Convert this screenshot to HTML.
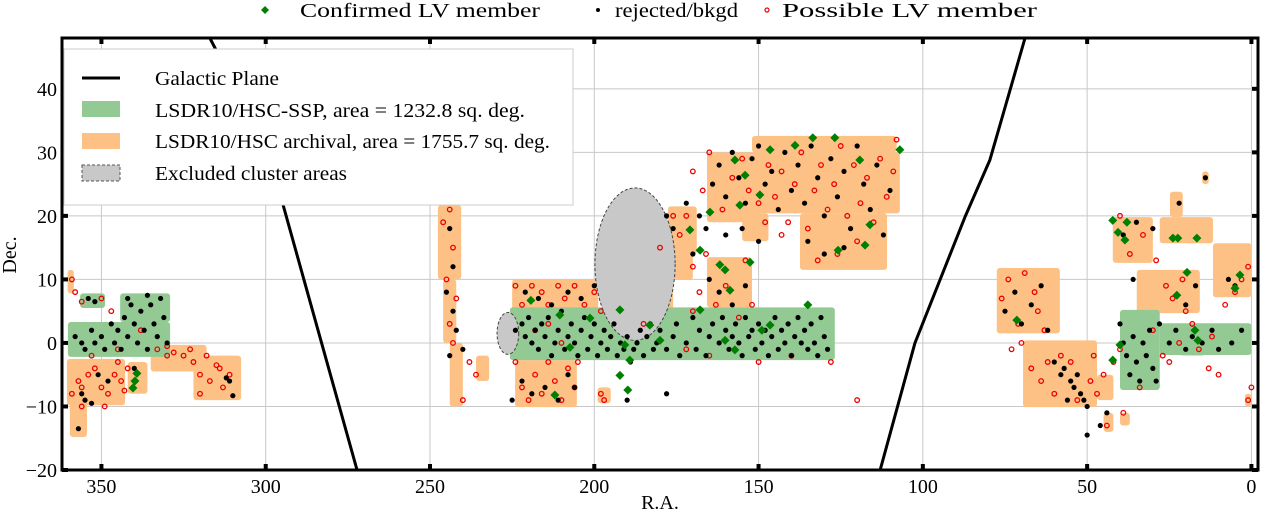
<!DOCTYPE html>
<html><head><meta charset="utf-8"><style>
html,body{margin:0;padding:0;background:#fff;}
svg{display:block;font-family:"Liberation Serif",serif;}
</style></head><body>
<svg id="chart" width="1262" height="515" viewBox="0 0 1262 515" xmlns="http://www.w3.org/2000/svg">
<defs><clipPath id="clip"><rect x="62" y="38" width="1196" height="432"/></clipPath></defs>
<g id="grid"></g>
<g id="areas" clip-path="url(#clip)"></g>
<g id="pts" clip-path="url(#clip)"></g>
<g id="gal" clip-path="url(#clip)"></g>
<g id="axes"></g>
<g>
<rect x="64" y="49" width="509" height="156" fill="#fff" stroke="#cccccc" stroke-width="1"/>
<line x1="82" y1="78" x2="120" y2="78" stroke="#000" stroke-width="3"/>
<text x="155" y="85" font-size="20" textLength="124" lengthAdjust="spacingAndGlyphs">Galactic Plane</text>
<rect x="82" y="101" width="38" height="16" fill="#93c993"/>
<text x="155" y="117" font-size="20" textLength="370" lengthAdjust="spacingAndGlyphs">LSDR10/HSC-SSP, area = 1232.8 sq. deg.</text>
<rect x="82" y="133" width="38" height="16" fill="#fdc185"/>
<text x="155" y="148" font-size="20" textLength="395" lengthAdjust="spacingAndGlyphs">LSDR10/HSC archival, area = 1755.7 sq. deg.</text>
<rect x="82" y="165" width="38" height="16" fill="#c8c8c8" stroke="#555" stroke-dasharray="3,2"/>
<text x="155" y="180" font-size="20" textLength="192" lengthAdjust="spacingAndGlyphs">Excluded cluster areas</text>
</g>
<g>
<path d="M265,6 L269,10 L265,14 L261,10 Z" fill="#008000"/>
<text x="300" y="17" font-size="20" textLength="240" lengthAdjust="spacingAndGlyphs">Confirmed LV member</text>
<circle cx="598" cy="10" r="2" fill="#000"/>
<text x="615" y="17" font-size="20" textLength="123" lengthAdjust="spacingAndGlyphs">rejected/bkgd</text>
<circle cx="767" cy="10" r="2" fill="none" stroke="#e00" stroke-width="1.2"/>
<text x="782" y="17" font-size="20" textLength="255" lengthAdjust="spacingAndGlyphs">Possible LV member</text>
</g>
<text x="660" y="509" font-size="20" text-anchor="middle">R.A.</text>
<text x="16" y="255" font-size="20" text-anchor="middle" transform="rotate(-90 16 255)">Dec.</text>
</svg>
<script>
const xTicks=[350,300,250,200,150,100,50,0];
const yTicks=[-20,-10,0,10,20,30,40];
const sspRects=[[360.2,329.1,-2.2,3.3],[344.3,329.1,3.3,7.8],[356.5,348.9,5.5,7.8],[225.7,126.8,-2.7,5.6],[40,27.9,-7.4,5.2],[27.9,0,-1.9,3.1]];
const archRects=[[360.5,342.8,-9.8,-2.5],[359.6,354.4,-14.8,-9.5],[360.3,358.4,7.8,11.5],[335,318,-4.5,-0.3],[322,307.5,-9,-2],[342,336,-8,-3],
[247.6,240.5,10,21.7],[246,242,0,10],[244,240,-10,0],[236,232,-6,-2],
[225,198.8,5,10],[224.1,205.3,-10.1,-2.7],[199,195,-9.5,-7],
[165.7,107,20.4,30],[152,108,30,32.6],[165.7,150,19,23],[137.4,110.9,11.5,20.4],[155,147,16,20.4],
[165.7,152,5.6,13.5],[177.6,168.8,14,21.5],[178,170,9.9,14],[180,176,4,9],
[77.5,58.3,1.5,11.8],[69.5,47,-10.1,0.4],[47,42,-9,-5],[45,42,-14,-11],[40,37,-13,-11],
[34.9,15.7,4.7,11.5],[42.2,30,12.6,19.8],[27.9,11.7,15.7,19.8],[24.8,20.9,19.8,23.8],[11.7,0,7.2,15.7],[15,13,25,27],[22,14,-2,3],[2,0,-10,-8]];
const exclRA=[187.6,226.3];
const exclDec=[12.4,1.5];
const exclRadRA=[12.2,3.3];
const exclRadDec=[12,3.3];
const galLeftRA=[317,305,294.7,283,272.2];
const galLeftDec=[48,36,21.7,0,-20];
const galRightRA=[113,102.4,87.2,79.6,68.9];
const galRightDec=[-20,0,19.8,28.8,48];
const confirmed=[[157.2,28.8],[154.1,26.4],[146.5,30.4],[138.9,31.1],[133.5,32.3],[126.8,32.3],[149.6,23.3],[119.2,28.8],[155.7,21.7],[164.8,20.6],[170.9,17.8],[167.8,14.6],[161.8,12.3],[160.2,11.5],[158.7,8.3],[183.1,2.8],[190.7,-0.3],[189.2,-2.7],[192.2,-5.1],[189.8,-7.4],[219.3,6.7],[210.5,4.4],[201.3,3.9],[207.4,-0.7],[180,0.4],[160.2,0.4],[157.2,-1.1],[146.5,2.8],[135,6],[152.6,12.7],[116.1,18.6],[117.6,15.4],[125.8,14.6],[107,30.4],[192.2,5.2],[167.8,5.2],[212,-8.2],[149,2],
[339.2,-4.8],[340.4,-7.1],[339.8,-6],
[42.2,19.3],[37.9,19],[40.6,17.4],[38.5,16.2],[23.9,16.5],[22.4,16.5],[16.6,16.5],[19.6,11.1],[22.7,7.5],[3.5,10.7],[5,8.6],[17.2,2],[16.3,0.4],[40,-0.3],[42.2,-2.7],[71.4,3.6]];
const rejected=[[358,1],[356,0],[355,-1],[353,2],[352,0],[350,1],[349,-1],[347,3],[346,0],[345,2],[344,-1],[343,4],[342,1],[341,6],[340,3],[339,0],[338,5],[337,2],[336,-1],[335,6],[334,3],[333,1],[332,7],[331,4],[330,0],[342,7],[336,7.5],[354,7],[352,6.5],[348,-6],[351,-5],[356,-8],[355,-9],[353,-9.5],[357,-13.5],[340,-4],[310,-8.3],[311,-6],[312,-5.5],
[244,18],[243,12],[245,8],[243,5],[242,2],[244,-2],[240,-1],
[224,2],[222,3],[221,1],[220,4],[219,0],[218,2],[217,-1],[216,3],[215,1],[214,4],[213,-2],[212,0],[211,2],[210,5],[209,-1],[208,1],[207,3],[206,0],[205,-2],[204,2],[203,4],[202,-1],[201,1],[200,3],[199,-2],[198,0],[197,2],[196,-1],[195,1],[194,3],[193,-2],[192,0],[191,-1],[190,1],[189,-3],[188,-1],[187,0],[186,2],[185,-2],[184,1],[183,3],[182,-1],[181,0],[180,2],[178,-1],[176,1],[175,3],[174,-2],[172,0],[170,4],[169,-1],[168,2],[166,-2],[165,1],[164,3],[162,0],[161,4],[160,2],[159,-1],[158,1],[157,3],[156,0],[155,-2],[154,4],[153,1],[152,2],[151,-1],[150,3],[149,0],[148,2],[147,-2],[146,1],[145,4],[144,-1],[143,2],[142,0],[141,3],[140,-2],[139,1],[138,4],[137,0],[136,2],[135,-1],[134,3],[133,0],[132,-2],[131,4],[130,1],[129,-1],
[221,8],[217,7],[213,6],[208,8],[204,7],[200,9],[222,-6],[219,-8],[215,-7],[211,-9],[208,-5],[206,-7],[225,-9],
[172,22],[168,20],[166,18],[164,25],[162,28],[160,23],[158,30],[156,26],[154,22],[152,29],[150,31],[148,25],[146,27],[144,21],[142,30],[140,24],[138,28],[136,22],[134,31],[132,26],[130,20],[128,29],[126,23],[124,27],[122,18],[120,31],[118,25],[116,21],[114,28],[112,17],[110,24],[135,16],[130,14],[124,15],[155,18],[150,16],[160,17],[165,10],[162,8],[158,6],[154,9],[170,14],[176,18],[178,20],[178,-8],[190,-9],
[75,5],[72,8],[70,3],[67,6],[64,9],[62,2],[60,-3],[58,-5],[57,-4],[55,-6],[54,-7],[53,-5],[52,-8],[51,-9],[50,-10],[56,-9],[50,-14.5],[46,-13],[44,-11],[40,3],[39,0],[38,-2],[37,-5],[36,1],[35,-3],[34,-6],[33,0],[32,-2],[31,2],[30,-4],[29,-6],[28,3],[25,0],[23,2],[20,-1],[18,1],[15,0],[12,2],[10,-1],[6,0],[3,2],[39,17],[35,19],[30,18],[14,26],[22,22],[7,10],[5,9],[20,6],[17,9],[36,10]];
const possible=[[359,10],[358,8],[357,-6],[356,-7],[359,-8],[354,-5],[352,-4],[350,-7],[348,-8],[346,-5],[344,-6],[342,-4],[345,-3],[343,-7.5],[349,-10],[356,-10],[353,-2],[350,7],[356,6.5],[347,5],[345,-1],[338,2],[333,-1],[330,-0.5],[328,-1.5],[325,-2],[322,-3],[320,-5],[318,-2],[315,-3.5],[313,-7],[314,-4],[311,-5],[317,-6],[320,-8],[323,-1],[330,-2],
[246,19],[244,21],[243,15],[245,10],[242,7],[244,3],[243,0],[238,-3],[236,-5],[240,-9],
[224,9],[222,6],[219,9],[216,8],[214,6],[211,9],[209,7],[206,9],[203,6],[200,8],[198,5],[224,-3],[222,-7],[220,-9],[218,-5],[216,-8],[214,-3],[212,-6],[210,-9],[208,-4],[206,-7],[205,-3],[198,-8],[197,-9],[218,2],[214,3],[210,0],
[180,15],[176,20],[174,17],[172,20],[170,12],[168,8],[166,14],[163,6],[160,9],[156,4],[154,13],[152,6],[170,27],[167,24],[165,30],[161,21],[158,26],[155,29],[153,24],[150,22],[147,28],[145,23],[143,27],[141,19],[139,25],[137,30],[135,18],[133,24],[131,28],[129,21],[127,25],[125,31],[123,20],[121,28],[119,22],[117,26],[115,19],[113,29],[111,23],[109,27],[108,32],[126,14],[120,16],[132,13],[143,17],[148,19],[128,-3],[140,-2],[150,-3],[165,-2],[172,-1],[185,3],[170,5],[120,-9],
[76,7],[74,10],[71,3],[69,11],[66,8],[65,5],[63,2],[70,0],[73,-1],[67,-4],[64,-6],[62,-3],[60,-8],[58,-2],[55,-3],[53,-9],[49,-6],[47,-8],[48,-2],[45,-5],[44,-13],[39,-11],[40,-1],[42,-3],[40,20],[37,14],[33,17],[29,13],[26,9],[24,7],[21,10],[20,5],[18,3],[22,0],[16,-1],[12,1],[27,-2],[30,2],[25,-3],[8,6],[5,8],[3,10],[1,12],[0,-7],[1,-9],[10,-5],[13,-4],[34,-7]];

const NS='http://www.w3.org/2000/svg';
const RA0=362,RA1=-2,D0=-20,D1=48,L=62,R=1258,T=38,B=470;
function X(ra){return L+(RA0-ra)*(R-L)/(RA0-RA1);}
function Y(d){return B-(d-D0)*(B-T)/(D1-D0);}
function mk(tag,attrs,parent){const e=document.createElementNS(NS,tag);for(const k in attrs)e.setAttribute(k,attrs[k]);parent.appendChild(e);return e;}
const grid=document.getElementById('grid'),areas=document.getElementById('areas'),pts=document.getElementById('pts'),gal=document.getElementById('gal'),axes=document.getElementById('axes');
xTicks.forEach(t=>{
  const g=mk('line',{x1:X(t),x2:X(t),y1:T,y2:B,stroke:'#c8c8c8','stroke-width':1},grid);
  
  
  const a=mk('rect',{x:X(t)-2,y:B-6,width:4,height:6,fill:'#000'},axes);
  
  
  const a2=mk('rect',{x:X(t)-2,y:T,width:4,height:6,fill:'#000'},axes);
  
  
  const lb=mk('text',{x:X(t),y:B+23,'font-size':20,'text-anchor':'middle'},axes);
  lb.textContent=t;
  
  
});
yTicks.forEach(t=>{
  const g=mk('line',{x1:L,x2:R,y1:Y(t),y2:Y(t),stroke:'#c8c8c8','stroke-width':1},grid);
  
  
  const a=mk('rect',{x:L,y:Y(t)-2,width:6,height:4,fill:'#000'},axes);
  
  
  const a2=mk('rect',{x:R-6,y:Y(t)-2,width:6,height:4,fill:'#000'},axes);
  
  
  const lb=mk('text',{x:L-5,y:Y(t)+7,'font-size':20,'text-anchor':'end'},axes);
  lb.textContent=(t<0?'\u2212'+(-t):t);
  
  
});
const frame=mk('rect',{x:L,y:T,width:R-L,height:B-T,fill:'none',stroke:'#000','stroke-width':3},axes);


function drawRects(list,fill,name){list.forEach(r=>{
  const x1=X(r[0]),x2=X(r[1]),y1=Y(r[3]),y2=Y(r[2]);
  const e=mk('rect',{x:x1,y:y1,width:x2-x1,height:y2-y1,rx:3,fill:fill},areas);
  
  
});}
drawRects(archRects,'#fdc185','archival-area');
drawRects(sspRects,'#93c993','ssp-area');
exclRA.forEach((ra,i)=>{
  const cx=X(ra),cy=Y(exclDec[i]);
  const e=mk('ellipse',{cx:cx,cy:cy,rx:X(ra-exclRadRA[i])-cx,ry:cy-Y(exclDec[i]+exclRadDec[i]),fill:'#c8c8c8',stroke:'#444','stroke-dasharray':'3,2','stroke-width':1},areas);
  
  
});
possible.forEach(p=>{
  const e=mk('circle',{cx:X(p[0]),cy:Y(p[1]),r:2.3,fill:'none',stroke:'#e00','stroke-width':1.3},pts);
  
  
});
rejected.forEach(p=>{
  const e=mk('circle',{cx:X(p[0]),cy:Y(p[1]),r:2.6,fill:'#000'},pts);
  
  
});
confirmed.forEach(p=>{
  const x=X(p[0]),y=Y(p[1]);
  const e=mk('path',{d:`M${x},${y-4.5}L${x+4.5},${y}L${x},${y+4.5}L${x-4.5},${y}Z`,fill:'#008000'},pts);
  
  
});
function galLine(ras,decs,name){
  const d=ras.map((r,i)=>(i?'L':'M')+X(r)+','+Y(decs[i])).join('');
  const e=mk('path',{d:d,fill:'none',stroke:'#000','stroke-width':3,'stroke-linejoin':'round'},gal);
  
  
}
galLine(galLeftRA,galLeftDec,'galactic-plane-left');
galLine(galRightRA,galRightDec,'galactic-plane-right');
</script>
</body></html>
